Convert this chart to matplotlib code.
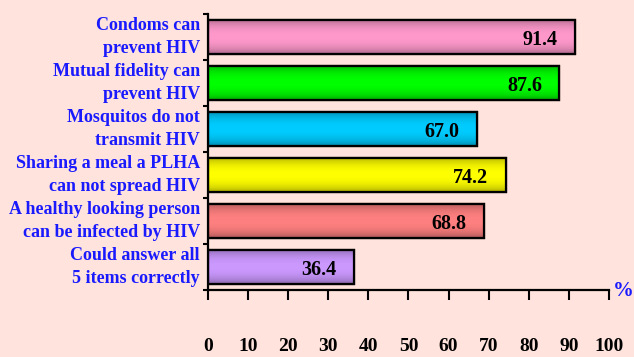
import numpy as np
import matplotlib
matplotlib.use("Agg")
import matplotlib.pyplot as plt
from matplotlib.colors import to_rgb

categories = ["Condoms can\nprevent HIV",
              "Mutual fidelity can\nprevent HIV",
              "Mosquitos do not\ntransmit HIV",
              "Sharing a meal a PLHA\ncan not spread HIV",
              "A healthy looking person\ncan be infected by HIV",
              "Could answer all\n5 items correctly"]
values = [91.4, 87.6, 67.0, 74.2, 68.8, 36.4]
colors = ["#FF99CC", "#00FF00", "#00CCFF", "#FFFF00", "#FF8080", "#CC99FF"]
xticks = [0, 10, 20, 30, 40, 50, 60, 70, 80, 90, 100]

bg = "#FFE3DC"
font = "Liberation Serif"

fig = plt.figure(figsize=(6.34, 3.57), dpi=100, facecolor=bg)
ax = fig.add_axes([0.328, 0.1877, 0.6326, 0.7731], facecolor=bg)

n = len(categories)
ypos = np.arange(n)[::-1]
h = 0.76

ax.set_xlim(0, 100)
ax.set_ylim(-0.5, n - 0.5)

t = np.linspace(0, 1, 64)
shade = 0.55 + 0.45 * np.sin(np.pi * t) ** 0.45
for y, v, c in zip(ypos, values, colors):
    bars = ax.barh(y, v, height=h, color=c, edgecolor="black", linewidth=1.6, zorder=2)
    rect = bars[0]
    base = np.array(to_rgb(c))
    img = (shade[:, None] * base[None, :])[:, None, :]
    im = ax.imshow(img, extent=[0, v, y - h / 2, y + h / 2], aspect="auto",
                   origin="lower", zorder=2.5, interpolation="bilinear")
    im.set_clip_path(rect)
    rect_edge = plt.Rectangle((0, y - h / 2), v, h, fill=False, edgecolor="black",
                              linewidth=1.6, zorder=3)
    ax.add_patch(rect_edge)
    ax.text(v - 4.3, y - 0.06, f"{v:.1f}", ha="right", va="center",
            fontsize=14.5, fontweight="bold", family=font, color="black", zorder=4)

ax.set_yticks(np.arange(-0.5, n, 1.0))
ax.set_yticklabels([])
for y, lab in zip(ypos, categories):
    ax.text(-2, y, lab, ha="right", va="center", fontsize=13, fontweight="bold",
            family=font, color="#1A1AFF", linespacing=1.4, transform=ax.transData)

ax.set_xticks(xticks)
ax.set_xticklabels([str(x) for x in xticks], fontsize=14, fontweight="bold", family=font)
ax.tick_params(axis="x", direction="out", length=7.5, width=1.5, pad=27)
ax.tick_params(axis="y", direction="out", length=3.6, width=1.5)

for s in ["top", "right"]:
    ax.spines[s].set_visible(False)
for s in ["left", "bottom"]:
    ax.spines[s].set_linewidth(1.6)

ax.text(1.01, -0.005, "%", transform=ax.transAxes, ha="left", va="center",
        fontsize=15, fontweight="bold", family=font, color="#1A1AFF")

fig.savefig("out.png", dpi=100, facecolor=bg)
